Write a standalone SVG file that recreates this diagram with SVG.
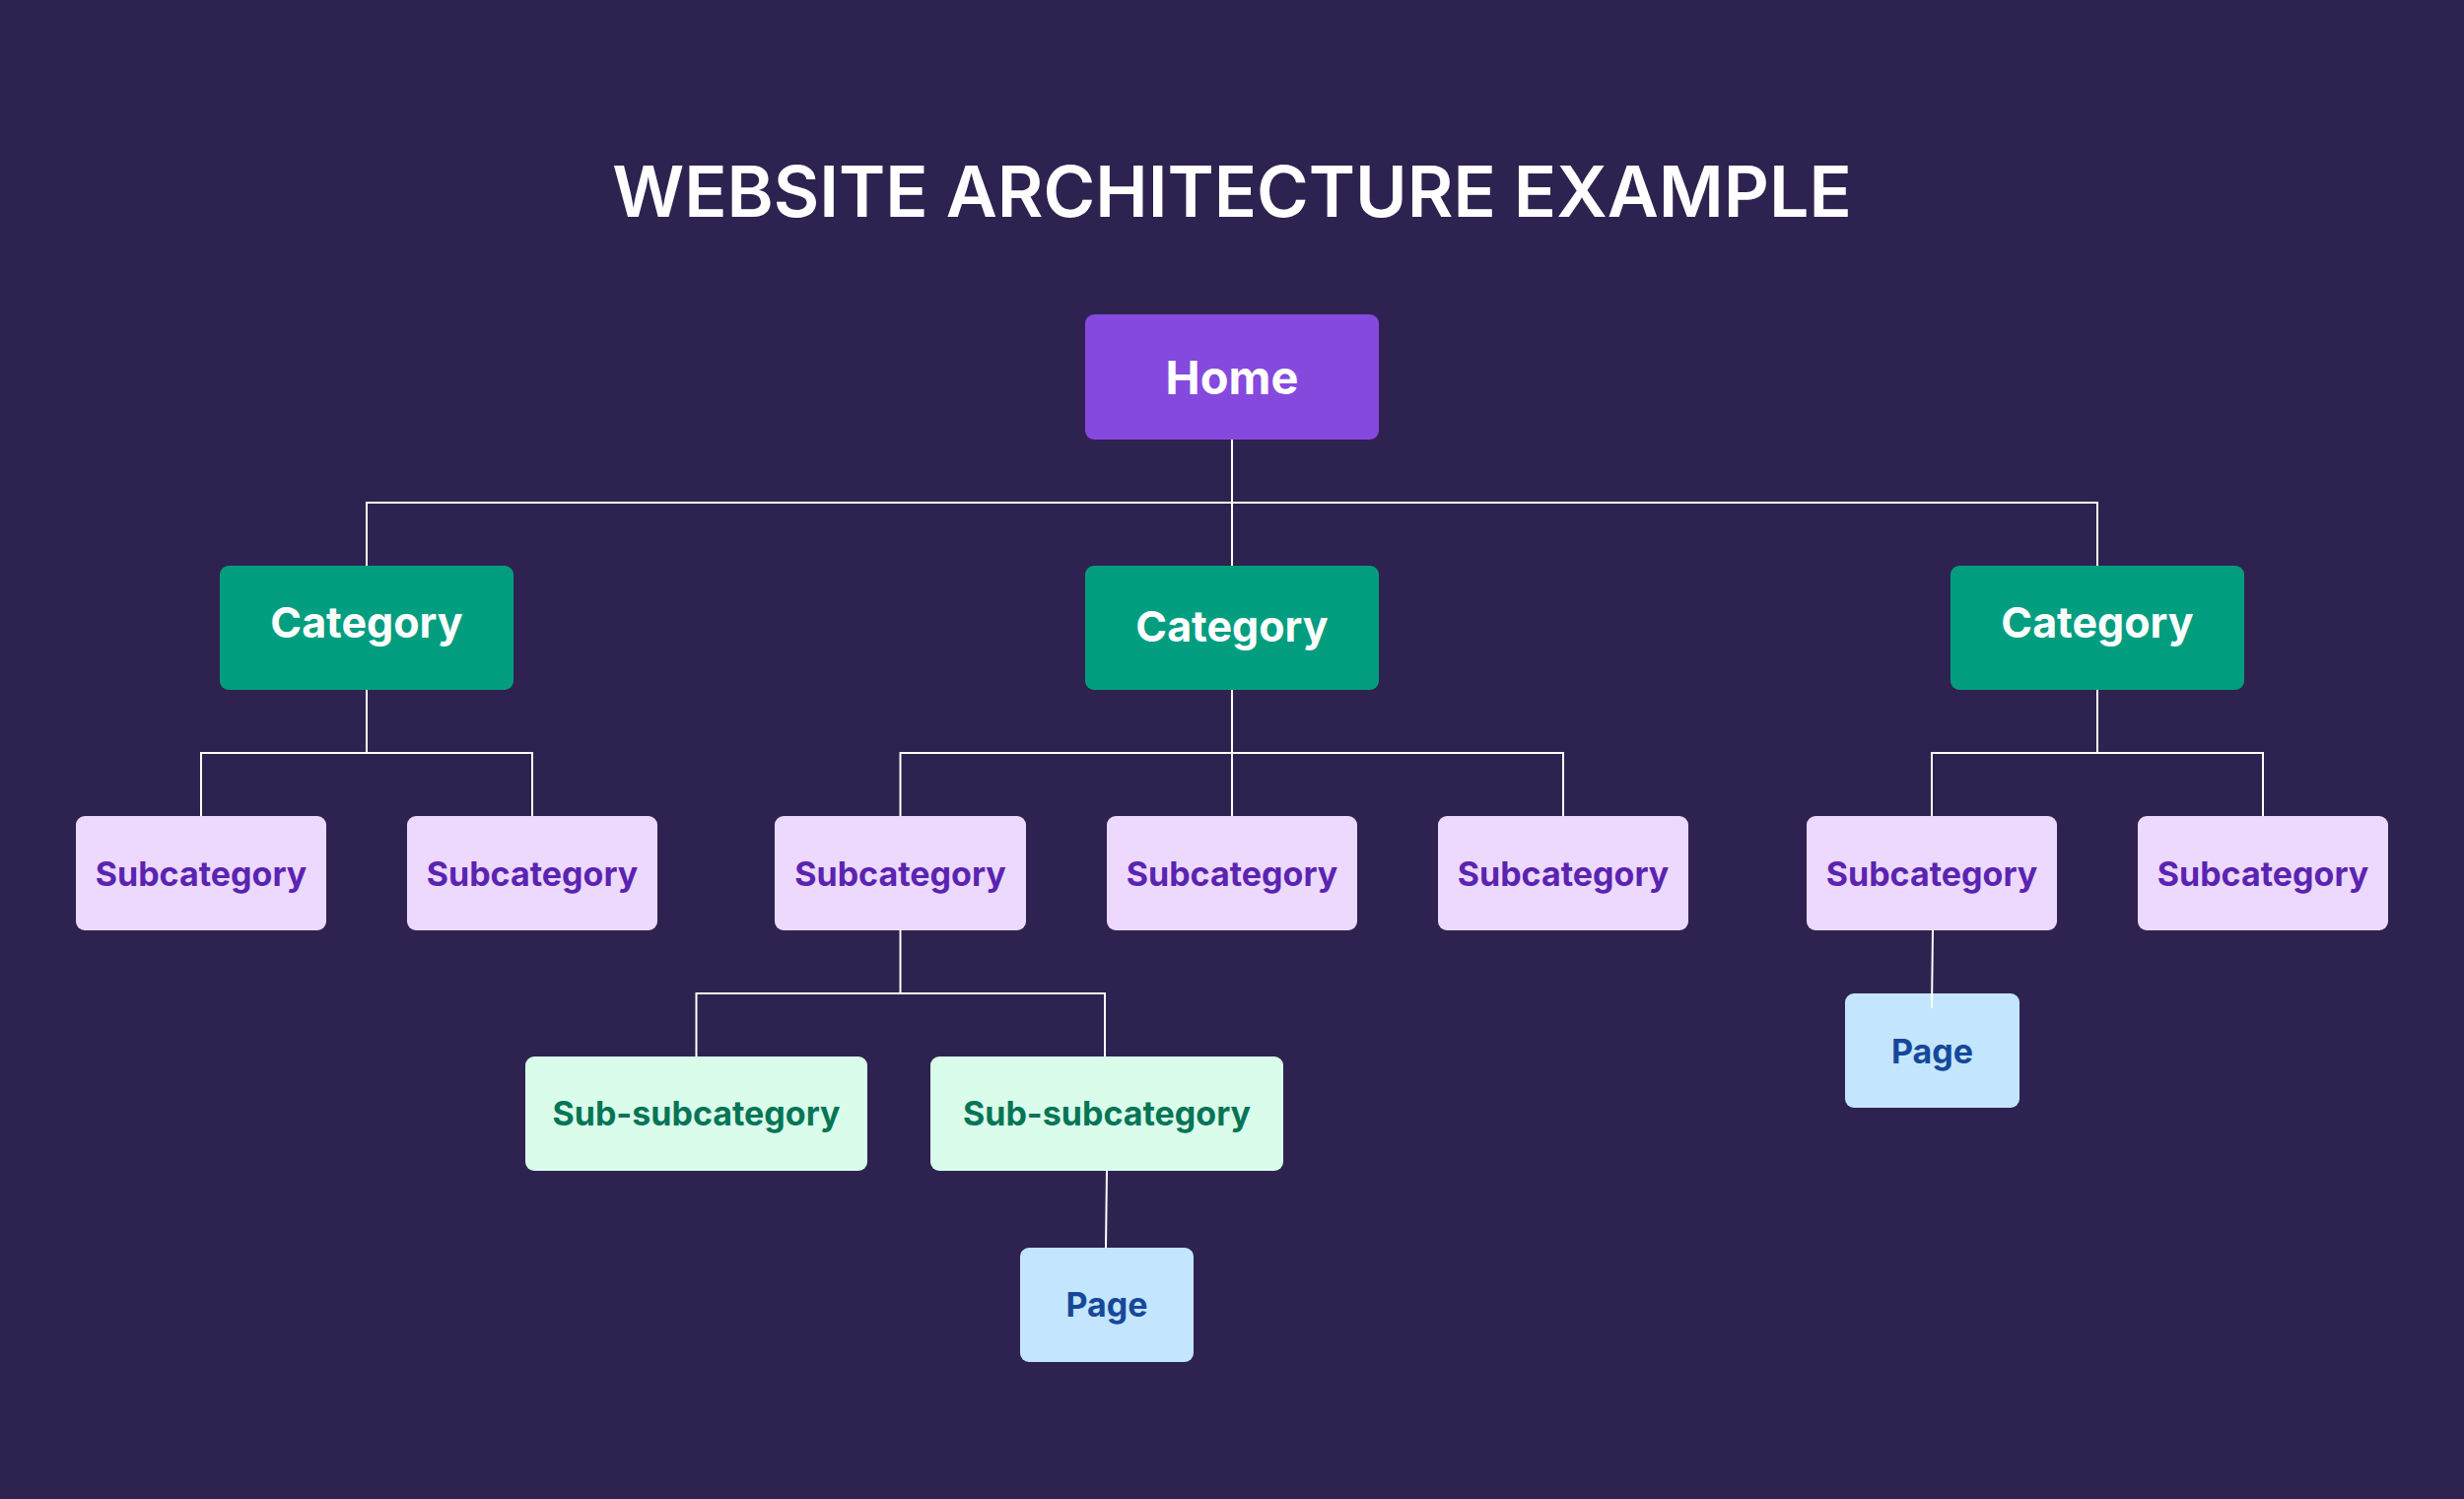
<svg xmlns="http://www.w3.org/2000/svg" width="2500" height="1521" viewBox="0 0 2500 1521">
<style>
.bg{fill:#2E2350}
.title{font-family:Inter,"Liberation Sans",sans-serif;font-weight:600;font-size:71.6px;fill:#FFFFFF;text-anchor:middle}
.t{font-family:Inter,"Liberation Sans",sans-serif;font-weight:700;text-anchor:middle}
.home rect{fill:#8549DE}
.home text{fill:#FFFFFF;font-size:47px}
.cat rect{fill:#039E80}
.cat text{fill:#FFFFFF;font-size:43px}
.sub rect{fill:#EDD8FE}
.sub text{fill:#5A24B0;font-size:34px}
.ss rect{fill:#DAFCEB}
.ss text{fill:#067556;font-size:34px}
.pg rect{fill:#C3E6FE}
.pg text{fill:#16489A;font-size:34px}
.conn path{fill:none;stroke:#FFFFFF;stroke-width:2}
</style>
<rect class="bg" x="0" y="0" width="2500" height="1521"/>
<text class="title" x="1250" y="220">WEBSITE ARCHITECTURE EXAMPLE</text>

<g id="home" class="home"><rect x="1101" y="319" width="298" height="127" rx="9"/><text class="t" x="1250" y="400">Home</text></g>

<g id="cat-left" class="cat"><rect x="223" y="574" width="298" height="126" rx="9"/><text class="t" x="372" y="647">Category</text></g>
<g id="cat-center" class="cat"><rect x="1101" y="574" width="298" height="126" rx="9"/><text class="t" x="1250" y="651">Category</text></g>
<g id="cat-right" class="cat"><rect x="1979" y="574" width="298" height="126" rx="9"/><text class="t" x="2128" y="647">Category</text></g>

<g id="sub-1" class="sub"><rect x="77" y="828" width="254" height="116" rx="9"/><text class="t" x="204" y="899">Subcategory</text></g>
<g id="sub-2" class="sub"><rect x="413" y="828" width="254" height="116" rx="9"/><text class="t" x="540" y="899">Subcategory</text></g>
<g id="sub-3" class="sub"><rect x="786" y="828" width="255" height="116" rx="9"/><text class="t" x="913.5" y="899">Subcategory</text></g>
<g id="sub-4" class="sub"><rect x="1123" y="828" width="254" height="116" rx="9"/><text class="t" x="1250" y="899">Subcategory</text></g>
<g id="sub-5" class="sub"><rect x="1459" y="828" width="254" height="116" rx="9"/><text class="t" x="1586" y="899">Subcategory</text></g>
<g id="sub-6" class="sub"><rect x="1833" y="828" width="254" height="116" rx="9"/><text class="t" x="1960" y="899">Subcategory</text></g>
<g id="sub-7" class="sub"><rect x="2169" y="828" width="254" height="116" rx="9"/><text class="t" x="2296" y="899">Subcategory</text></g>

<g id="subsub-1" class="ss"><rect x="533" y="1072" width="347" height="116" rx="9"/><text class="t" x="706.5" y="1142">Sub-subcategory</text></g>
<g id="subsub-2" class="ss"><rect x="944" y="1072" width="358" height="116" rx="9"/><text class="t" x="1123" y="1142">Sub-subcategory</text></g>

<g id="page-1" class="pg"><rect x="1035" y="1266" width="176" height="116" rx="9"/><text class="t" x="1123" y="1336">Page</text></g>
<g id="page-2" class="pg"><rect x="1872" y="1008" width="177" height="116" rx="9"/><text class="t" x="1960.5" y="1079">Page</text></g>

<g id="connectors" class="conn">
<path d="M1250,446 V574"/>
<path d="M372,574 V510 H2128 V574"/>
<path d="M372,700 V764"/>
<path d="M204,828 V764 H540 V828"/>
<path d="M1250,700 V828"/>
<path d="M913.5,828 V764 H1586 V828"/>
<path d="M2128,700 V764"/>
<path d="M1960,828 V764 H2296 V828"/>
<path d="M913.5,944 V1008"/>
<path d="M706.5,1072 V1008 H1121 V1072"/>
<path d="M1123,1188 L1122,1266"/>
<path d="M1961,944 L1960,1023"/>
</g>
</svg>
